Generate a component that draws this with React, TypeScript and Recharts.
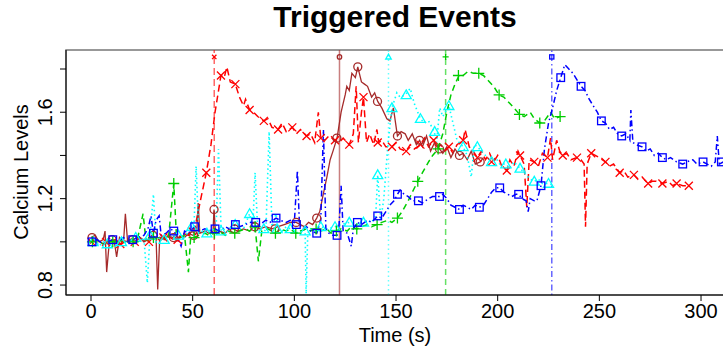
import React from "react"
import { LineChart, Line, XAxis, YAxis, ReferenceLine, ReferenceArea } from "recharts"

// time (s), calcium level pairs
const redTrace: [number, number][] = [
  [0, 1.0], [3, 1.01], [6, 0.99], [9, 1.0], [12, 1.01], [15, 0.99], [18, 1.01], [21, 1.0], [24, 1.02], [27, 1.0],
  [30, 1.02], [33, 1.01], [36, 1.03], [39, 1.02], [42, 1.0], [45, 1.04], [48, 1.03], [51, 1.06], [54, 1.2], [56.7, 1.32],
  [59, 1.45], [61, 1.6], [63.9, 1.77], [65.5, 1.76], [66.8, 1.81], [68.5, 1.74], [71, 1.73], [73, 1.67], [75, 1.63], [76, 1.66],
  [78, 1.61], [80, 1.6], [82, 1.58], [85, 1.56], [87, 1.57], [89, 1.53], [92, 1.52], [94, 1.55], [96, 1.51], [99, 1.53],
  [101, 1.5], [103, 1.52], [106, 1.49], [108, 1.5], [110, 1.46], [111.8, 1.6], [113, 1.48], [115, 1.47], [117, 1.49], [120, 1.47],
  [122, 1.46], [124, 1.48], [127, 1.45], [129, 1.5], [130.4, 1.72], [131.5, 1.46], [133, 1.6], [134, 1.67], [135.5, 1.46], [137, 1.5],
  [139, 1.45], [140.6, 1.52], [141.5, 1.46], [143, 1.47], [145, 1.44], [148, 1.44], [150, 1.46], [152, 1.43], [155, 1.42], [157, 1.45],
  [159, 1.43], [162, 1.45], [164, 1.48], [166, 1.44], [168.5, 1.47], [170, 1.43], [172, 1.45], [174, 1.42], [176, 1.44], [178, 1.41],
  [180, 1.45], [183, 1.47], [184, 1.52], [186, 1.44], [188, 1.42], [190, 1.39], [192, 1.42], [194, 1.38], [196, 1.41], [198, 1.37],
  [200, 1.4], [202, 1.35], [204.5, 1.33], [206, 1.38], [208, 1.35], [210, 1.42], [211, 1.4], [213, 1.36], [214.3, 1.16], [215.5, 1.38],
  [218, 1.37], [220, 1.35], [222, 1.41], [224.5, 1.39], [226, 1.48], [227, 1.38], [229, 1.47], [230.5, 1.42], [232, 1.4], [234, 1.41],
  [236, 1.38], [239, 1.39], [241, 1.38], [242.5, 1.36], [243.2, 1.07], [244, 1.36], [246, 1.41], [248, 1.4], [250, 1.39], [253, 1.37],
  [255, 1.35], [257, 1.36], [260, 1.32], [262, 1.33], [264, 1.3], [267, 1.31], [269, 1.29], [271, 1.3], [274, 1.27], [276, 1.28],
  [278, 1.28], [281, 1.27], [284, 1.28], [286, 1.26], [288, 1.27], [291, 1.26], [294, 1.26],
]
const redMarks: [number, number][] = [
  [0.3, 1.0], [7.4, 1.0], [14.4, 0.99], [21.5, 1.0], [28.5, 1.0], [35.6, 1.02], [42.6, 1.01], [49.7, 1.05], [56.7, 1.32], [63.9, 1.77],
  [71, 1.73], [78, 1.61], [85, 1.56], [92, 1.52], [99, 1.53], [106, 1.49], [113, 1.48], [120, 1.47], [127, 1.45], [134, 1.67],
  [141, 1.46], [148, 1.44], [155, 1.42], [162, 1.45], [168.5, 1.47], [176, 1.44], [183, 1.47], [190, 1.39], [197, 1.37], [204.5, 1.33],
  [211, 1.4], [218, 1.37], [224.5, 1.39], [232, 1.4], [239, 1.39], [246, 1.41], [253, 1.37], [260, 1.32], [267, 1.31], [274, 1.27],
  [281, 1.27], [288, 1.27], [294, 1.26],
]

const brownTrace: [number, number][] = [
  [0, 1.02], [2, 1.03], [4, 1.0], [6, 1.01], [6.9, 1.05], [7.7, 0.86], [9, 1.0], [10.4, 1.01], [11.5, 1.0], [12.6, 0.93],
  [14, 1.02], [16, 1.0], [16.9, 1.13], [18, 1.0], [20, 1.01], [22, 1.0], [24, 1.02], [26, 1.0], [28, 1.01], [30, 1.03],
  [32, 1.02], [32.8, 0.78], [33.8, 1.02], [36, 1.01], [38, 1.03], [40, 1.02], [42, 1.01], [44, 1.03], [46, 1.02], [48, 1.04],
  [50, 1.03], [52, 1.04], [52.7, 1.18], [53.5, 1.04], [56, 1.05], [58, 1.04], [60, 1.05], [60.5, 1.15], [61.2, 1.05], [63, 1.05],
  [66, 1.04], [68, 1.06], [70, 1.06], [72, 1.05], [75, 1.06], [78, 1.05], [80, 1.07], [83, 1.06], [86, 1.07], [89, 1.06],
  [92, 1.07], [95, 1.08], [98, 1.09], [100.9, 1.09], [103, 1.08], [105, 1.07], [107, 1.09], [109, 1.08], [111, 1.11], [112.5, 1.14],
  [114, 1.21], [116, 1.3], [117.6, 1.38], [119, 1.42], [121, 1.48], [123, 1.6], [125, 1.68], [125.8, 1.72], [127, 1.7], [128.3, 1.78],
  [130, 1.76], [131.2, 1.81], [133, 1.74], [134.5, 1.73], [136, 1.72], [138, 1.67], [139.5, 1.69], [141, 1.65], [143, 1.62], [145.5, 1.57],
  [147, 1.56], [148.7, 1.62], [150.7, 1.49], [152.5, 1.51], [154.5, 1.5], [156, 1.47], [158, 1.5], [160, 1.45], [161.6, 1.47], [163, 1.44],
  [165, 1.49], [167, 1.42], [169, 1.46], [171.4, 1.43], [173, 1.41], [175, 1.44], [177, 1.39], [179, 1.43], [181.2, 1.4], [183, 1.41],
  [185, 1.38], [187, 1.42], [189, 1.36], [191.4, 1.37], [193, 1.39],
]
const brownMarks: [number, number][] = [
  [0.5, 1.02], [10.4, 1.01], [20.5, 1.01], [30.5, 1.03], [40.5, 1.02], [50.5, 1.03], [60.5, 1.15], [70.5, 1.06], [80.5, 1.07], [90.5, 1.06],
  [100.9, 1.09], [111, 1.11], [120.9, 1.48], [131.2, 1.81], [140.9, 1.65], [150.7, 1.49], [161.6, 1.47], [171.4, 1.43], [181.2, 1.4], [191.4, 1.37],
]

const cyanTrace: [number, number][] = [
  [0, 1.0], [2, 1.01], [4, 0.98], [6, 1.0], [8, 0.99], [10, 1.01], [12, 0.98], [14, 1.0], [16, 1.01], [18, 0.99],
  [20, 1.0], [22, 1.02], [24, 1.0], [26, 1.02], [27.7, 0.81], [29, 1.03], [30.7, 1.22], [32, 1.0], [34, 1.02], [36, 1.01],
  [38, 1.03], [40, 1.02], [42, 1.04], [44, 1.03], [46, 1.02], [48, 1.05], [49.5, 1.07], [50.5, 1.03], [51.7, 1.35], [53, 1.04],
  [55, 1.05], [57, 1.04], [59, 1.06], [61.5, 1.05], [62.7, 1.43], [64, 1.05], [66, 1.06], [68, 1.04], [70.9, 1.08], [73, 1.05],
  [75, 1.06], [78, 1.13], [79.5, 1.06], [80.7, 1.32], [82, 1.05], [84, 1.06], [86, 1.05], [87.6, 1.51], [89, 1.07], [91, 1.13],
  [92, 1.06], [94, 1.05], [96, 1.07], [98, 1.06], [100, 1.05], [102, 1.04], [104, 1.06], [105.3, 1.05], [105.8, 0.76], [106.6, 1.04],
  [108, 1.06], [110, 1.05], [113, 1.07], [116, 1.06], [120, 1.07], [123, 1.08], [127, 1.09], [130, 1.08], [133, 1.09], [136, 1.1],
  [138, 1.09], [140, 1.12], [141, 1.31], [142.5, 1.1], [144, 1.2], [146, 1.45], [148, 1.62], [150.4, 1.69], [152, 1.67], [154.5, 1.68],
  [157, 1.71], [159, 1.64], [162, 1.57], [164, 1.55], [166, 1.56], [168.8, 1.51], [170, 1.46], [171.5, 1.62], [173, 1.58], [176, 1.63],
  [178, 1.55], [180, 1.47], [183, 1.44], [185, 1.4], [187, 1.3], [188.5, 1.45], [190, 1.44], [192, 1.42], [194, 1.4], [197, 1.37],
  [199, 1.39], [201, 1.36], [204, 1.36], [206, 1.34], [208, 1.37], [210, 1.35], [212, 1.33], [214, 1.31], [216, 1.29], [218, 1.28],
  [220, 1.29], [222, 1.27], [225, 1.27], [228, 1.26],
]
const cyanMarks: [number, number][] = [
  [1, 1.0], [8, 0.99], [15, 1.0], [22, 1.02], [29, 1.03], [36, 1.01], [43, 1.03], [49.5, 1.07], [57, 1.04], [64, 1.05],
  [70.9, 1.08], [78, 1.13], [85, 1.06], [91.5, 1.06], [98, 1.06], [105.3, 1.05], [113, 1.07], [120, 1.07], [127, 1.09], [134, 1.09],
  [141, 1.31], [148, 1.62], [155, 1.68], [162, 1.57], [169, 1.51], [176, 1.63], [183, 1.44], [190, 1.44], [197, 1.37], [204, 1.36],
  [211, 1.34], [218, 1.28], [225, 1.27],
]

const greenTrace: [number, number][] = [
  [0.7, 1.0], [3, 1.01], [6, 0.99], [9, 1.0], [10.7, 1.0], [13, 1.01], [16, 1.0], [19, 1.01], [20.7, 1.0], [23, 1.02],
  [25.6, 1.13], [27, 1.01], [29, 1.0], [30.7, 1.02], [33, 1.01], [36, 1.02], [38, 1.01], [40.7, 1.27], [42, 1.03], [44, 1.02],
  [46, 1.03], [47.9, 0.86], [49, 1.02], [50.7, 1.02], [53, 1.03], [56, 1.04], [58, 1.03], [60.7, 1.04], [63, 1.05], [66, 1.03],
  [68, 1.05], [70.7, 1.04], [73, 1.05], [76, 1.06], [78, 1.05], [80.7, 1.07], [82.3, 0.91], [84, 1.05], [87, 1.06], [90.7, 1.04],
  [93, 1.06], [96, 1.05], [98, 1.06], [100.7, 1.04], [103, 1.05], [106, 1.06], [108, 1.05], [110.7, 1.06], [113, 1.05], [116, 1.06],
  [118, 1.04], [120.7, 1.05], [123, 1.06], [126, 1.05], [128, 1.07], [130.7, 1.06], [133, 1.07], [136, 1.08], [138, 1.07], [140.7, 1.08],
  [143, 1.09], [146, 1.1], [148, 1.09], [150.7, 1.11], [153, 1.14], [156, 1.19], [158, 1.23], [160.7, 1.28], [163, 1.32], [166, 1.37],
  [168, 1.4], [170.7, 1.43], [173, 1.5], [175, 1.6], [177, 1.68], [179, 1.73], [181, 1.77], [183, 1.77], [185.5, 1.79], [188, 1.78],
  [190.7, 1.78], [193, 1.77], [196, 1.74], [198, 1.72], [200.7, 1.68], [203, 1.67], [206, 1.64], [208, 1.62], [210.7, 1.59], [213, 1.58],
  [216, 1.6], [218, 1.57], [220.7, 1.55], [223, 1.56], [226, 1.6], [228, 1.57], [230.7, 1.58],
]
const greenMarks: [number, number][] = [
  [0.7, 1.0], [10.7, 1.0], [20.7, 1.0], [30.7, 1.02], [40.7, 1.27], [50.7, 1.02], [60.7, 1.04], [70.7, 1.04], [80.7, 1.07], [90.7, 1.04],
  [100.7, 1.04], [110.7, 1.06], [120.7, 1.05], [130.7, 1.06], [140.7, 1.08], [150.7, 1.11], [160.7, 1.28], [170.7, 1.43], [180.7, 1.77], [190.7, 1.78],
  [200.7, 1.68], [210.7, 1.59], [220.7, 1.55], [230.7, 1.58],
]

const blueTrace: [number, number][] = [
  [0.5, 1.0], [3, 1.01], [6, 0.99], [8, 1.0], [10.7, 1.01], [13, 1.0], [16, 1.02], [18, 1.0], [20.5, 1.01], [23, 1.02],
  [26, 1.03], [28, 1.06], [29.5, 1.12], [30.7, 1.04], [32, 1.1], [33.5, 1.12], [34.5, 1.03], [37, 1.04], [39, 1.06], [40.7, 1.05],
  [42, 1.03], [44.3, 0.98], [46, 1.05], [48, 1.04], [51, 1.07], [53, 1.05], [56, 1.06], [58, 1.05], [61, 1.06], [63, 1.05],
  [66, 1.07], [68, 1.06], [71, 1.08], [73, 1.07], [76, 1.08], [78, 1.09], [81, 1.09], [83, 1.08], [86, 1.1], [88, 1.09],
  [91, 1.11], [93, 1.1], [96, 1.09], [98, 1.1], [100, 1.09], [101.5, 1.33], [102.5, 1.08], [104, 1.06], [106, 1.07], [108, 1.05],
  [111, 1.04], [113, 1.1], [114.3, 1.52], [115.5, 1.06], [117, 1.04], [119, 1.03], [121, 1.03], [122, 1.08], [123, 1.26], [124, 1.05],
  [126, 1.04], [128, 0.98], [129, 1.06], [131, 1.09], [133, 1.08], [136, 1.1], [138, 1.09], [141, 1.12], [143, 1.11], [145, 1.14],
  [147, 1.17], [149, 1.19], [150.7, 1.22], [152, 1.24], [154, 1.22], [156, 1.21], [158, 1.19], [161, 1.19], [163, 1.18], [166, 1.2],
  [168, 1.21], [171.4, 1.21], [173, 1.22], [175, 1.2], [177, 1.17], [179, 1.16], [181.2, 1.15], [183, 1.17], [185, 1.16], [187, 1.15],
  [189, 1.17], [191, 1.16], [193, 1.17], [195, 1.2], [197, 1.23], [199, 1.25], [201, 1.25], [203, 1.23], [205, 1.22], [207, 1.21],
  [209, 1.22], [210.3, 1.22], [212, 1.2], [214, 1.19], [215, 1.14], [216, 1.2], [218, 1.19], [219.3, 1.19], [221.3, 1.26], [223, 1.43],
  [225, 1.55], [227, 1.62], [229, 1.7], [231, 1.76], [233, 1.82], [235, 1.8], [237, 1.78], [239, 1.75], [241, 1.72], [243, 1.7],
  [245, 1.66], [247, 1.63], [249, 1.6], [251, 1.56], [253, 1.55], [255, 1.52], [257, 1.53], [259, 1.5], [261, 1.49], [263, 1.5],
  [265, 1.47], [265.5, 1.61], [266.5, 1.46], [268, 1.45], [271, 1.44], [273, 1.42], [275, 1.43], [277, 1.4], [279, 1.41], [281, 1.39],
  [283, 1.38], [285, 1.39], [288, 1.37], [291, 1.36], [293, 1.37], [296, 1.38], [298, 1.36], [301, 1.37], [303, 1.36], [305, 1.35],
  [307, 1.37], [308, 1.49], [309, 1.36], [311, 1.37],
]
const blueMarks: [number, number][] = [
  [0.5, 1.0], [10.7, 1.01], [20.5, 1.01], [30.7, 1.04], [40.7, 1.05], [51, 1.07], [61, 1.06], [71, 1.08], [81, 1.09], [91, 1.11],
  [101, 1.08], [111, 1.04], [121, 1.03], [131, 1.09], [141, 1.12], [150.7, 1.22], [161, 1.19], [171.4, 1.21], [181.2, 1.15], [191, 1.16],
  [201, 1.25], [210.3, 1.22], [221.3, 1.26], [231, 1.76], [241, 1.72], [251, 1.56], [261, 1.49], [271, 1.44], [281, 1.39], [291, 1.36],
  [301, 1.37], [310, 1.37],
]

// trigger times of the five events and where their flags sit
const eventTimes = [60.6, 122.2, 146.3, 174.4, 226.6]
const eventFlagLevel = 1.856

const xTicks = [0, 50, 100, 150, 200, 250, 300]
const yTicks = [0.8, 1.0, 1.2, 1.4, 1.6, 1.8]
const yLabelled = [0.8, 1.2, 1.6]

const FONT = '"Liberation Sans", Arial, Helvetica, sans-serif'

const toPts = (arr: [number, number][]) => arr.map(([t, v]) => ({ t, v }))

type Shape = "cross" | "circle" | "triangle" | "plus" | "square"

function Marker({ cx, cy, shape, color, s = 1 }: { cx: number; cy: number; shape: Shape; color: string; s?: number }) {
  if (cx == null || cy == null || isNaN(cx) || isNaN(cy)) return null
  const sw = 1.3
  if (shape === "cross") {
    const r = 4 * s
    return <path d={`M${cx - r},${cy - r}L${cx + r},${cy + r}M${cx - r},${cy + r}L${cx + r},${cy - r}`} stroke={color} strokeWidth={sw} fill="none" />
  }
  if (shape === "plus") {
    const r = 5.5 * s
    return <path d={`M${cx - r},${cy}L${cx + r},${cy}M${cx},${cy - r}L${cx},${cy + r}`} stroke={color} strokeWidth={sw} fill="none" />
  }
  if (shape === "circle") {
    return <circle cx={cx} cy={cy} r={4 * s} stroke={color} strokeWidth={sw} fill="none" />
  }
  if (shape === "triangle") {
    const r = 5 * s
    return <path d={`M${cx},${cy - r}L${cx + r},${cy + r * 0.75}L${cx - r},${cy + r * 0.75}Z`} stroke={color} strokeWidth={sw} fill="none" />
  }
  const h = 3.8 * s
  return <rect x={cx - h} y={cy - h} width={2 * h} height={2 * h} stroke={color} strokeWidth={sw} fill="none" />
}

const series = [
  { name: "red", color: "#FF0000", dash: "7 4", width: 1.5, shape: "cross" as Shape, trace: redTrace, marks: redMarks },
  { name: "brown", color: "#A52A2A", dash: undefined, width: 1.3, shape: "circle" as Shape, trace: brownTrace, marks: brownMarks },
  { name: "cyan", color: "#00FFFF", dash: "1.5 3", width: 1.6, shape: "triangle" as Shape, trace: cyanTrace, marks: cyanMarks },
  { name: "green", color: "#00CD00", dash: "6 4", width: 1.5, shape: "plus" as Shape, trace: greenTrace, marks: greenMarks },
  { name: "blue", color: "#0000FF", dash: "1.5 3 6 3", width: 1.5, shape: "square" as Shape, trace: blueTrace, marks: blueMarks },
]

const XTick = (props: any) => {
  const { x, y, payload } = props
  return (
    <text x={x} y={y} dy={15} textAnchor="middle" fontSize={20} fontFamily={FONT} fill="#000">
      {payload.value}
    </text>
  )
}

const YTick = (props: any) => {
  const { x, y, payload } = props
  const v = Math.round(payload.value * 10) / 10
  if (!yLabelled.includes(v)) return null
  const bx = x - 8
  return (
    <text x={bx} y={y} transform={`rotate(-90, ${bx}, ${y})`} textAnchor="middle" fontSize={20} fontFamily={FONT} fill="#000">
      {v.toFixed(1)}
    </text>
  )
}

export default function App() {
  return (
    <div style={{ position: "absolute", left: 0, top: 0, width: 723, height: 353, overflow: "hidden", background: "#fff" }}>
      <div style={{ position: "absolute", left: 66, width: 658, top: 0, textAlign: "center", fontFamily: FONT, fontWeight: "bold", fontSize: 30, lineHeight: "34px" }}>
        Triggered Events
      </div>
      <div style={{ position: "absolute", left: 0, top: 0, width: 0, height: 0 }}>
        <div style={{ position: "absolute", left: 21, top: 172, transform: "translate(-50%, -50%) rotate(-90deg)", whiteSpace: "nowrap", fontFamily: FONT, fontSize: 20 }}>
          Calcium Levels
        </div>
      </div>
      <div style={{ position: "absolute", left: 66, width: 658, top: 324, textAlign: "center", fontFamily: FONT, fontSize: 20 }}>
        Time (s)
      </div>
      <LineChart width={724} height={353} margin={{ top: 50, right: 0, bottom: 0, left: 0 }} style={{ position: "absolute", left: 0, top: 0 }}>
        <XAxis
          type="number"
          dataKey="t"
          domain={[-12.3, 311.3]}
          ticks={xTicks}
          height={58}
          tickSize={6}
          tick={<XTick />}
          stroke="#000"
          allowDataOverflow
        />
        <YAxis
          type="number"
          dataKey="v"
          domain={[0.754, 1.888]}
          ticks={yTicks}
          width={66}
          tickSize={6}
          tickMargin={0}
          tick={<YTick />}
          stroke="#000"
          allowDataOverflow
          interval={0}
        />
        <ReferenceArea x1={-12.3} x2={311.3} y1={0.754} y2={1.888} fill="none" stroke="#777" strokeWidth={1.5} />
        {eventTimes.map((t, i) => (
          <ReferenceLine
            key={`ev-${i}`}
            x={t}
            stroke={series[i].color}
            strokeOpacity={0.6}
            strokeWidth={1.5}
            strokeDasharray={series[i].dash}
          />
        ))}
        {series.map((s) => (
          <Line
            key={`${s.name}-trace`}
            data={toPts(s.trace)}
            dataKey="v"
            type="linear"
            stroke={s.color}
            strokeWidth={s.width}
            strokeDasharray={s.dash}
            dot={false}
            activeDot={false}
            isAnimationActive={false}
          />
        ))}
        {series.map((s) => (
          <Line
            key={`${s.name}-marks`}
            data={toPts(s.marks)}
            dataKey="v"
            stroke="none"
            dot={(p: any) => <Marker key={`${s.name}-m-${p.index}`} cx={p.cx} cy={p.cy} shape={s.shape} color={s.color} />}
            activeDot={false}
            isAnimationActive={false}
          />
        ))}
        {eventTimes.map((t, i) => (
          <Line
            key={`flag-${i}`}
            data={[{ t, v: eventFlagLevel }]}
            dataKey="v"
            stroke="none"
            dot={(p: any) => <Marker key={`flag-m-${i}`} cx={p.cx} cy={p.cy} shape={series[i].shape} color={series[i].color} s={0.55} />}
            activeDot={false}
            isAnimationActive={false}
          />
        ))}
      </LineChart>
    </div>
  )
}
